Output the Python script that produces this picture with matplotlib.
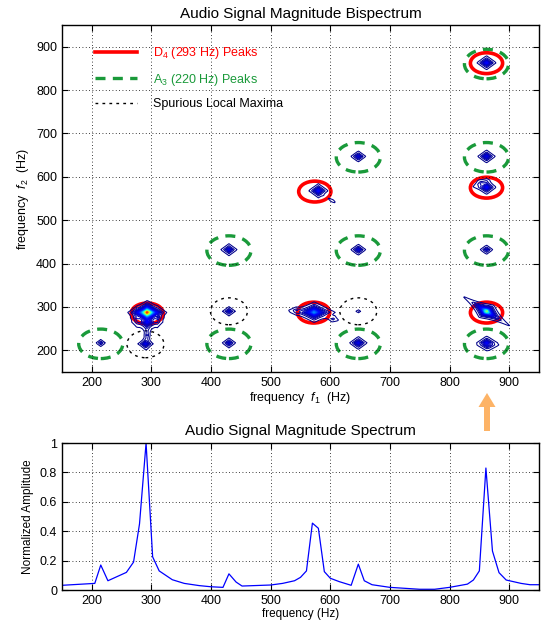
import numpy as np
import matplotlib
matplotlib.use("Agg")
import matplotlib.pyplot as plt
from matplotlib.patches import Ellipse, FancyArrow
from matplotlib.lines import Line2D

plt.rcParams["font.family"] = ["Liberation Sans", "DejaVu Sans"]
plt.rcParams["mathtext.fontset"] = "custom"
plt.rcParams["mathtext.rm"] = "Liberation Sans"
plt.rcParams["mathtext.it"] = "Liberation Sans:italic"

# --- magnitude spectrum (normalized) ---
spec_freq = [150, 205, 215, 227, 258, 270, 280, 291, 302, 313, 335, 355, 380, 400,
             420, 430, 442, 452, 500, 520, 540, 550, 560, 570, 580, 590, 600, 615,
             635, 647, 657, 670, 700, 750, 775, 800, 830, 840, 850, 861, 872, 883,
             895, 920, 935, 950]
spec_amp = [0.032, 0.045, 0.17, 0.063, 0.12, 0.19, 0.45, 1.0, 0.226, 0.13, 0.07,
            0.045, 0.03, 0.022, 0.018, 0.11, 0.054, 0.027, 0.034, 0.045, 0.063,
            0.086, 0.13, 0.455, 0.42, 0.125, 0.08, 0.057, 0.032, 0.176, 0.063,
            0.036, 0.018, 0.005, 0.005, 0.018, 0.04, 0.068, 0.13, 0.83, 0.265,
            0.118, 0.068, 0.045, 0.036, 0.036]

# --- bispectrum peaks: (f1, f2), relative height, spread along / across, tilt (deg) ---
peak_f1 = [293, 293, 290, 215, 430, 430, 430, 573, 580, 647, 647, 647, 647,
           862, 862, 862, 862, 862, 862,
           293, 543, 605, 603, 862, 853, 866, 310, 276]
peak_f2 = [287, 265, 215, 217, 432, 290, 217, 288, 568, 647, 432, 290, 217,
           863, 647, 576, 432, 290, 217,
           235, 292, 272, 545, 290, 585, 212, 275, 275]
peak_amp = [1.0, 0.1, 0.1, 0.05, 0.1, 0.07, 0.08, 0.3, 0.15, 0.1, 0.1, 0.025, 0.12,
            0.15, 0.12, 0.15, 0.07, 0.55, 0.12,
            0.035, 0.03, 0.03, 0.02, 0.04, 0.035, 0.04, 0.04, 0.04]
peak_s1 = [7, 9, 5.5, 5, 6, 5.5, 5.5, 10, 6, 5.5, 5.5, 4, 6,
           6, 6, 6, 5.5, 7.5, 6,
           3, 10, 9, 14, 38, 10, 11, 6, 6]
peak_s2 = [6, 9, 5.5, 5, 6, 5.5, 5.5, 7, 6, 5.5, 5.5, 4, 6,
           6, 6, 6, 5.5, 4.5, 6,
           16, 6, 6, 4, 6, 7, 7, 12, 12]
peak_tilt = [0, 0, 0, 0, 0, 0, 0, 0, 0, 0, 0, 0, 0,
             0, 0, 0, 0, -41, 0,
             0, 0, -20, -40, -41, 30, 0, 0, 0]

# --- highlighted locations ---
d4_f1 = [293, 572, 574, 862, 862, 862]
d4_f2 = [285, 287, 566, 862, 575, 287]
a3_f1 = [215, 430, 430, 647, 647, 647, 862, 862, 862, 862]
a3_f2 = [215, 430, 215, 645, 430, 215, 860, 645, 430, 215]
spur_f1 = [290, 430, 647]
spur_f2 = [214, 290, 290]

red = "#ff0000"
green = "#1a9a3a"

# bispectrum magnitude sampled on a fine frequency grid
grid = np.arange(150, 952, 2.5)
F1, F2 = np.meshgrid(grid, grid)
B = np.zeros_like(F1)
for f1, f2, a, s1, s2, t in zip(peak_f1, peak_f2, peak_amp, peak_s1, peak_s2, peak_tilt):
    th = np.deg2rad(t)
    u = (F1 - f1) * np.cos(th) + (F2 - f2) * np.sin(th)
    v = -(F1 - f1) * np.sin(th) + (F2 - f2) * np.cos(th)
    B += a * np.exp(-(np.abs(u) / s1 + np.abs(v) / s2))

fig = plt.figure(figsize=(5.42, 6.28), dpi=100)
ax1 = fig.add_axes([0.1144, 0.4076, 0.880, 0.5526])
ax2 = fig.add_axes([0.1144, 0.0605, 0.880, 0.234])

levels = np.linspace(0.01, 1.0, 90)
ax1.contour(F1, F2, B, levels=levels, cmap="jet", vmin=0, vmax=1, linewidths=0.75)

for x, y in zip(a3_f1, a3_f2):
    ax1.add_patch(Ellipse((x, y), 74, 68, fill=False, ec=green, lw=2.4,
                          ls=(0, (3, 2.2))))
for x, y in zip(d4_f1, d4_f2):
    ax1.add_patch(Ellipse((x, y), 54, 48, fill=False, ec=red, lw=2.6))
for x, y in zip(spur_f1, spur_f2):
    ax1.add_patch(Ellipse((x, y), 62, 62, fill=False, ec="black", lw=1.0,
                          ls=(0, (2, 3))))

ax1.set_xlim(150, 950)
ax1.set_ylim(150, 950)
ax1.set_xticks(range(200, 1000, 100))
ax1.set_yticks(range(200, 1000, 100))
ax1.set_title("Audio Signal Magnitude Bispectrum", fontsize=11, pad=5)
ax1.set_xlabel("frequency  $f_1$  (Hz)", fontsize=9, labelpad=1)
ax1.set_ylabel("frequency  $f_2$  (Hz)", fontsize=9, labelpad=4)

handles = [Line2D([], [], color=red, lw=2.6),
           Line2D([], [], color=green, lw=2.4, ls=(0, (3, 2.2))),
           Line2D([], [], color="black", lw=1.0, ls=(0, (2, 3)))]
labels = ["D$_4$ (293 Hz) Peaks", "A$_3$ (220 Hz) Peaks", "Spurious Local Maxima"]
ax1.legend(handles, labels, loc="upper left", bbox_to_anchor=(0.045, 0.975),
           frameon=False, fontsize=9, handlelength=3.4, handletextpad=1.3,
           labelspacing=0.85, labelcolor=[red, green, "black"])

ax2.plot(spec_freq, spec_amp, color="#0000ff", lw=0.9)
ax2.set_xlim(150, 950)
ax2.set_ylim(0, 1)
ax2.set_xticks(range(200, 1000, 100))
ax2.set_yticks([0, 0.2, 0.4, 0.6, 0.8, 1])
ax2.set_yticklabels(["0", "0.2", "0.4", "0.6", "0.8", "1"])
ax2.set_title("Audio Signal Magnitude Spectrum", fontsize=11, pad=6)
ax2.set_xlabel("frequency (Hz)", fontsize=8.5, labelpad=1)
ax2.set_ylabel("Normalized Amplitude", fontsize=8.5, labelpad=4)

for ax in (ax1, ax2):
    ax.grid(True, color="black", ls=(0, (1, 3)), lw=0.6)
    ax.tick_params(direction="in", top=True, right=True, length=4, labelsize=9)
    for sp in ax.spines.values():
        sp.set_linewidth(1.0)

# arrow tying the 862 Hz column to the spectrum peak
fig.patches.append(FancyArrow(4.87, 1.97, 0, 0.38, width=0.06, head_width=0.17,
                              head_length=0.14, length_includes_head=True,
                              color="#fdb366", ec="none",
                              transform=fig.dpi_scale_trans, figure=fig))

fig.savefig("out.png", dpi=100)
